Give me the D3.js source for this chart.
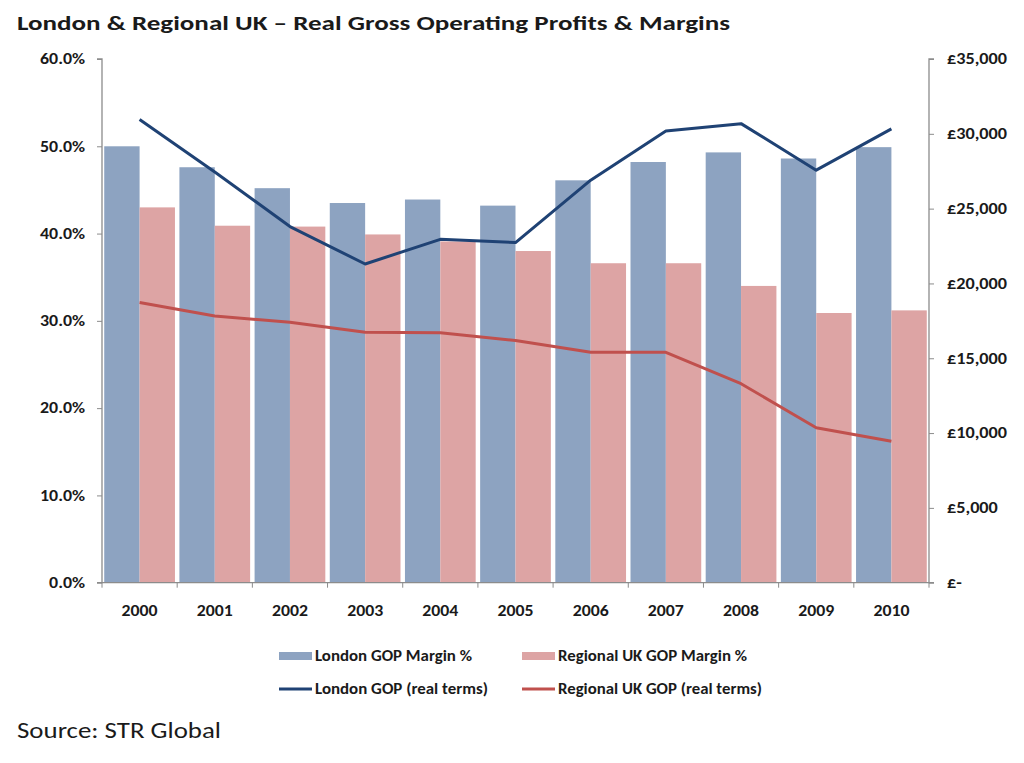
<!DOCTYPE html>
<html>
<head>
<meta charset="utf-8">
<script src="https://cdn.jsdelivr.net/npm/d3@7"></script>
<style>
  body { margin: 0; background: #fff; }
  svg { display: block; }
  text { font-family: Carlito, Calibri, Lato, "Open Sans", sans-serif; fill: #1a1a1a; }
</style>
</head>
<body>
<svg id="chart" width="1024" height="763"></svg>
<script>
const years = ["2000","2001","2002","2003","2004","2005","2006","2007","2008","2009","2010"];
const londonMargin   = [50.0, 47.6, 45.2, 43.5, 43.9, 43.2, 46.1, 48.2, 49.3, 48.6, 49.9];
const regionalMargin = [43.0, 40.9, 40.8, 39.9, 39.1, 38.0, 36.6, 36.6, 34.0, 30.9, 31.2];
const londonGOP      = [30950, 27450, 23800, 21300, 22950, 22730, 26900, 30190, 30680, 27570, 30330];
const regionalGOP    = [18720, 17830, 17400, 16740, 16700, 16180, 15400, 15400, 13300, 10360, 9450];
const leftTicks  = [0, 10, 20, 30, 40, 50, 60];
const rightTicks = [0, 5000, 10000, 15000, 20000, 25000, 30000, 35000];
const titleText  = "London & Regional UK \u2013 Real Gross Operating Profits & Margins";
const sourceText = "Source: STR Global";
const seriesNames = ["London GOP Margin %", "Regional UK GOP Margin %", "London GOP (real terms)", "Regional UK GOP (real terms)"];

const colLondonBar = "#8DA3C1", colRegionalBar = "#DDA4A4";
const colLondonLine = "#1F4274", colRegionalLine = "#C0504D";
const axisCol = "#8c8c8c";

const svg = d3.select("#chart");
const L = 102, R = 929, T = 59, B = 582.7;

const x = d3.scaleBand().domain(years).range([L, R]).paddingInner(0).paddingOuter(0);
const xi = d3.scaleBand().domain(["london", "regional"]).range([0, x.bandwidth()]).paddingInner(0).paddingOuter(0.063);
const yL = d3.scaleLinear().domain([0, 60]).range([B, T]);
const yR = d3.scaleLinear().domain([0, 35000]).range([B, T]);

function stretchTo(sel, w) {
  sel.attr("textLength", w).attr("lengthAdjust", "spacingAndGlyphs");
}
function stretchBy(sel, f) {
  sel.each(function() {
    const n = this.getComputedTextLength();
    d3.select(this).attr("textLength", n * f).attr("lengthAdjust", "spacingAndGlyphs");
  });
}

// Title
const title = svg.append("text").attr("x", 17).attr("y", 30)
  .attr("font-size", 21).attr("font-weight", "bold").text(titleText);
stretchTo(title, 713);

// Bars
const g = svg.append("g");
years.forEach((yr, i) => {
  g.append("rect").attr("x", x(yr) + xi("london")).attr("width", xi.bandwidth())
    .attr("y", yL(londonMargin[i])).attr("height", yL(0) - yL(londonMargin[i])).attr("fill", colLondonBar);
  g.append("rect").attr("x", x(yr) + xi("regional")).attr("width", xi.bandwidth())
    .attr("y", yL(regionalMargin[i])).attr("height", yL(0) - yL(regionalMargin[i])).attr("fill", colRegionalBar);
});

// Lines
const lineGen = arr => d3.line().x((d, i) => x(years[i]) + x.bandwidth() / 2).y(d => yR(d))(arr);
svg.append("path").attr("d", lineGen(londonGOP)).attr("fill", "none")
  .attr("stroke", colLondonLine).attr("stroke-width", 3).attr("stroke-linejoin", "round");
svg.append("path").attr("d", lineGen(regionalGOP)).attr("fill", "none")
  .attr("stroke", colRegionalLine).attr("stroke-width", 3).attr("stroke-linejoin", "round");

const FS = 15;
// Left axis
const axL = svg.append("g").attr("transform", `translate(${L},0)`)
  .call(d3.axisLeft(yL).tickValues(leftTicks).tickSize(5).tickPadding(12).tickFormat(d => d3.format(".1f")(d) + "%"));
// Right axis
const axR = svg.append("g").attr("transform", `translate(${R},0)`)
  .call(d3.axisRight(yR).tickValues(rightTicks).tickSize(5).tickPadding(13)
    .tickFormat(d => d === 0 ? "\u00A3-" : "\u00A3" + d3.format(",")(d)));
// Bottom axis
const axB = svg.append("g").attr("transform", `translate(0,${B})`)
  .call(d3.axisBottom(x).tickSize(0).tickPadding(23));
// boundary ticks
svg.append("g").selectAll("line").data(d3.range(years.length + 1)).join("line")
  .attr("x1", i => L + i * x.step()).attr("x2", i => L + i * x.step())
  .attr("y1", B).attr("y2", B + 5).attr("stroke", axisCol);

[axL, axR, axB].forEach(a => {
  a.select(".domain").attr("stroke", axisCol).attr("stroke-width", 1.3);
  a.selectAll(".tick line").attr("stroke", axisCol);
  a.selectAll("text").attr("font-size", FS).attr("font-weight", "bold").attr("fill", "#222")
    .style("font-family", "Carlito, Calibri, Lato, sans-serif");
});
axL.select(".domain").attr("d", `M-5,${T}H0V${B}H-5`);
axR.select(".domain").attr("d", `M5,${T}H0V${B}H5`);
axB.select(".domain").attr("d", `M${L},0H${R}`);

// horizontal stretch to mimic the wide Calibri rendering
const refL = axL.selectAll(".tick text").filter(d => d === 60).node().getComputedTextLength();
stretchBy(axL.selectAll(".tick text"), 45 / refL);
const refR = axR.selectAll(".tick text").filter(d => d === 35000).node().getComputedTextLength();
stretchBy(axR.selectAll(".tick text"), 60 / refR);
const refB = axB.select(".tick text").node().getComputedTextLength();
stretchBy(axB.selectAll(".tick text"), 36 / refB);

// Legend
const legend = svg.append("g");
const legendItems = [
  {name: seriesNames[0], type: "rect", col: colLondonBar, x: 279, y: 656, w: 157},
  {name: seriesNames[1], type: "rect", col: colRegionalBar, x: 522, y: 656, w: 189},
  {name: seriesNames[2], type: "line", col: colLondonLine, x: 279, y: 689, w: 173},
  {name: seriesNames[3], type: "line", col: colRegionalLine, x: 522, y: 689, w: 204},
];
legendItems.forEach(it => {
  if (it.type === "rect") {
    legend.append("rect").attr("x", it.x).attr("y", it.y - 4).attr("width", 33).attr("height", 8).attr("fill", it.col);
  } else {
    legend.append("line").attr("x1", it.x).attr("x2", it.x + 33).attr("y1", it.y).attr("y2", it.y)
      .attr("stroke", it.col).attr("stroke-width", 3);
  }
  const t = legend.append("text").attr("x", it.x + 36).attr("y", it.y + 5)
    .attr("font-size", 15).attr("font-weight", "bold").attr("fill", "#222").text(it.name);
  stretchTo(t, it.w);
});

// Source
const src = svg.append("text").attr("x", 17).attr("y", 738).attr("font-size", 23).attr("fill", "#111").text(sourceText);
stretchTo(src, 204);
</script>
</body>
</html>
